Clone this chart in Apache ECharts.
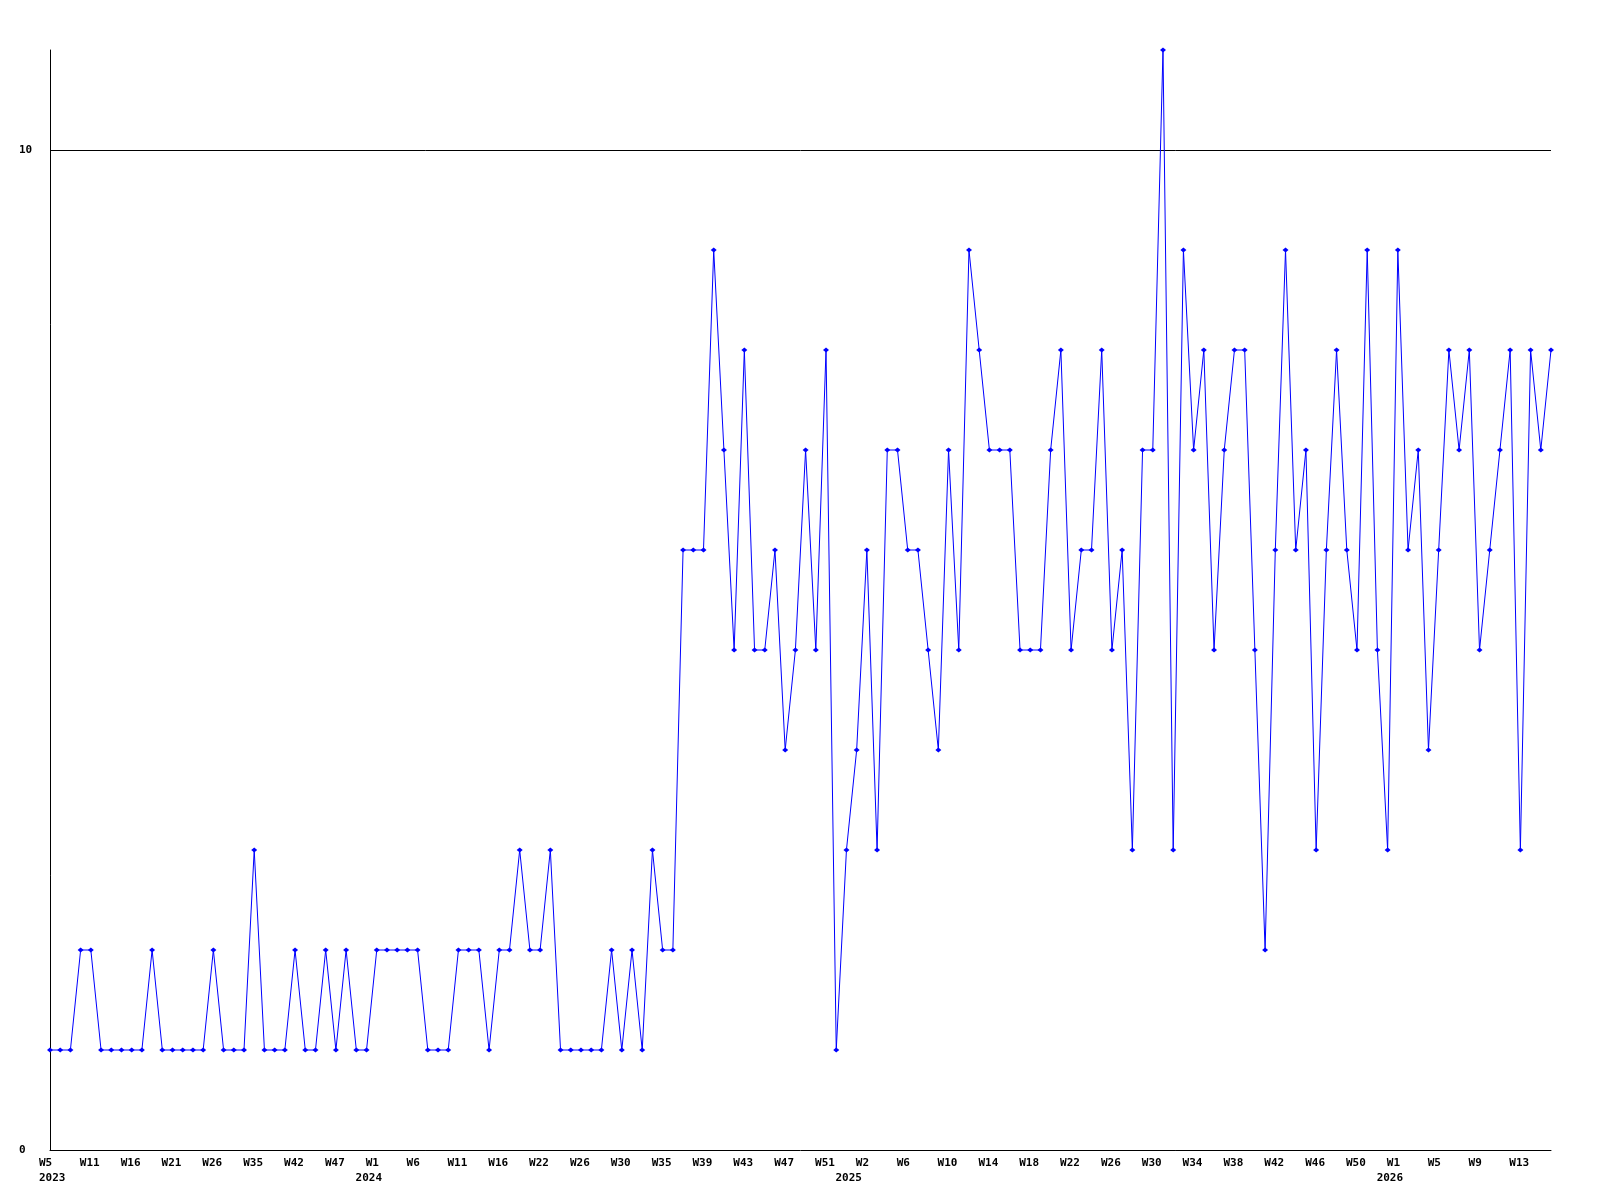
<!DOCTYPE html>
<html>
<head>
<meta charset="utf-8">
<script src="https://cdn.jsdelivr.net/npm/echarts@6/dist/echarts.min.js"></script>
<style>html,body{margin:0;padding:0;background:#fff;}#c{width:1600px;height:1200px;}</style>
</head>
<body>
<div id="c"></div>
<script>
// Week categories (one per data point); every 4th one is labelled on the axis
const weekLabels = [
  'W5','W6','W8','W9','W11','W12','W13','W14','W16','W17','W18','W20','W21','W22','W24','W25','W26','W28','W30','W33',
  'W35','W37','W39','W40','W42','W43','W44','W46','W47','W49','W51','W0','W1','W2','W3','W5','W6','W8','W9','W10',
  'W11','W13','W14','W15','W16','W18','W19','W21','W22','W23','W24','W25','W26','W27','W28','W29','W30','W32','W33','W34',
  'W35','W36','W37','W38','W39','W40','W41','W42','W43','W44','W45','W46','W47','W48','W49','W50','W51','W52','W0','W1',
  'W2','W3','W4','W5','W6','W7','W8','W9','W10','W11','W12','W13','W14','W15','W16','W17','W18','W19','W20','W21',
  'W22','W23','W24','W25','W26','W27','W28','W29','W30','W31','W32','W33','W34','W35','W36','W37','W38','W39','W40','W41',
  'W42','W43','W44','W45','W46','W47','W48','W49','W50','W51','W52','W0','W1','W2','W3','W4','W5','W6','W7','W8',
  'W9','W10','W11','W12','W13','W14','W15','W16'
];
// Year labels and the index of the first point of each year
const years = ['2023', '2024', '2025', '2026'];
const yearStarts = [0, 31, 78, 131];

const values = [
  1,1,1,2,2,1,1,1,1,1,2,1,1,1,1,1,2,1,1,1,
  3,1,1,1,2,1,1,2,1,2,1,1,2,2,2,2,2,1,1,1,
  2,2,2,1,2,2,3,2,2,3,1,1,1,1,1,2,1,2,1,3,
  2,2,6,6,6,9,7,5,8,5,5,6,4,5,7,5,8,1,3,4,
  6,3,7,7,6,6,5,4,7,5,9,8,7,7,7,5,5,5,7,8,
  5,6,6,8,5,6,3,7,7,11,3,9,7,8,5,7,8,8,5,2,
  6,9,6,7,3,6,8,6,5,9,5,3,9,6,7,4,6,8,7,8,
  5,6,7,8,3,8,7,8
];

const yTickLabels = [0, 10];

// unique category keys: year + week
const categories = weekLabels.map(function (w, i) {
  let y = years[0];
  yearStarts.forEach(function (s, k) { if (i >= s) y = years[k]; });
  return y + '-' + w;
});

const font = '"DejaVu Sans Mono", "Liberation Mono", monospace';
const labelBase = {
  align: 'left',
  padding: [0, 0, 0, -11],
  color: '#000',
  fontFamily: font,
  fontWeight: 'bold',
  fontSize: 11
};
const chart = echarts.init(document.getElementById('c'), null, {renderer: 'canvas'});
chart.setOption({
  animation: false,
  backgroundColor: '#ffffff',
  grid: {left: 50, right: 49, top: 50, bottom: 50, containLabel: false},
  xAxis: [{
    type: 'category',
    data: categories,
    boundaryGap: false,
    axisLine: {show: true, lineStyle: {color: '#000', width: 1}},
    axisTick: {show: false},
    splitLine: {show: false},
    axisLabel: Object.assign({}, labelBase, {
      interval: 3,
      margin: 8,
      formatter: function (val) { return val.split('-')[1]; }
    })
  }, {
    type: 'category',
    data: categories,
    position: 'bottom',
    boundaryGap: false,
    axisLine: {show: false},
    axisTick: {show: false},
    splitLine: {show: false},
    axisLabel: Object.assign({}, labelBase, {
      interval: 0,
      margin: 23,
      formatter: function (val, idx) {
        const k = yearStarts.indexOf(idx);
        return k >= 0 ? years[k] : '';
      }
    })
  }],
  yAxis: {
    type: 'value',
    min: 0,
    max: 11,
    interval: 10,
    axisLine: {show: true, lineStyle: {color: '#000', width: 1}},
    axisTick: {show: false},
    splitLine: {show: true, showMinLine: false, showMaxLine: false, lineStyle: {color: '#000', width: 1}},
    axisLabel: {
      showMaxLabel: false,
      align: 'left',
      margin: 31,
      color: '#000',
      fontFamily: font,
      fontWeight: 'bold',
      fontSize: 11,
      formatter: function (v) { return yTickLabels.indexOf(v) >= 0 ? String(v) : ''; }
    }
  },
  series: [{
    type: 'line',
    data: values,
    xAxisIndex: 0,
    showAllSymbol: true,
    symbol: 'diamond',
    symbolSize: [6, 5],
    itemStyle: {color: '#0000ff'},
    lineStyle: {color: '#0000ff', width: 1},
    clip: false
  }]
});
</script>
</body>
</html>
